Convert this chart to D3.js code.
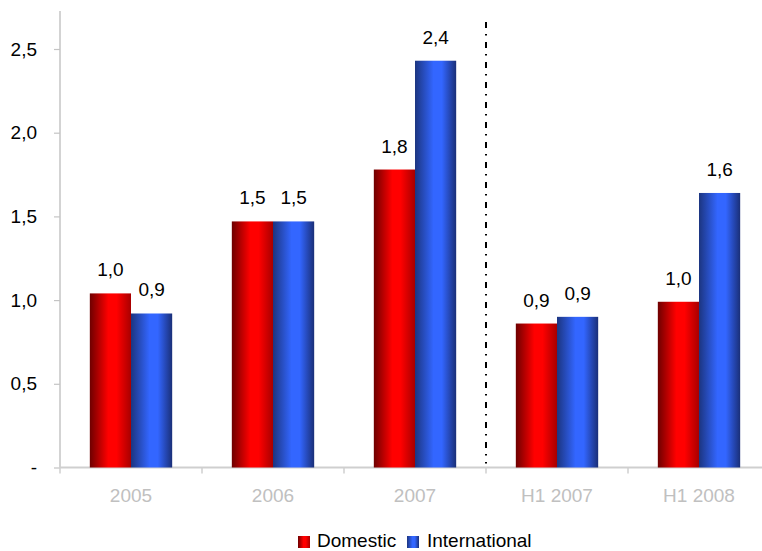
<!DOCTYPE html>
<html>
<head>
<meta charset="utf-8">
<script src="https://cdn.jsdelivr.net/npm/d3@7"></script>
<style>
  html, body { margin: 0; padding: 0; background: #fff; }
  svg { display: block; font-family: "Liberation Sans", Arial, sans-serif; }
</style>
</head>
<body>
<svg id="chart" width="762" height="551"></svg>
<script>
// Periods on the x axis
const categories = ["2005", "2006", "2007", "H1 2007", "H1 2008"];
// Series names
const seriesNames = ["Domestic", "International"];
// Values per period
const domestic = [1.04, 1.47, 1.78, 0.86, 0.99];
const international = [0.92, 1.47, 2.43, 0.90, 1.64];
// Y axis ticks
const yTicks = [0, 0.5, 1.0, 1.5, 2.0, 2.5];

const svg = d3.select("#chart");
const W = 762, H = 551;
const left = 60, step = 142;

const x0 = d3.scaleBand().domain(categories).range([left, left + step * categories.length]).padding(0);
const groupW = x0.bandwidth() * 0.58;
const x1 = d3.scaleBand().domain(seriesNames)
  .range([(x0.bandwidth() - groupW) / 2, (x0.bandwidth() + groupW) / 2]).padding(0);
const y = d3.scaleLinear().domain([0, 2.727]).range([467.5, 11]);

const fmt = v => v === 0 ? "-" : d3.format(".1f")(v).replace(".", ",");

// Cylinder-like horizontal gradients
const defs = svg.append("defs");
function grad(id, dark, bright, edge) {
  const g = defs.append("linearGradient").attr("id", id).attr("x1", "0").attr("x2", "1").attr("y1", "0").attr("y2", "0");
  g.append("stop").attr("offset", "0%").attr("stop-color", dark);
  g.append("stop").attr("offset", "45%").attr("stop-color", bright);
  g.append("stop").attr("offset", "65%").attr("stop-color", bright);
  g.append("stop").attr("offset", "100%").attr("stop-color", edge);
}
grad("gDom", "#6e0000", "#ff0000", "#a80000");
grad("gInt", "#1c3580", "#3366ff", "#1a2f78");
const fills = { Domestic: "url(#gDom)", International: "url(#gInt)" };

// Y axis
const yAxis = svg.append("g").attr("transform", `translate(${left},0)`)
  .call(d3.axisLeft(y).tickValues(yTicks).tickSize(6).tickPadding(17).tickFormat(fmt));
yAxis.select(".domain").attr("d", `M0,${y.range()[1]}V${y(0)}`).attr("stroke", "#c4c4c4").attr("stroke-width", 1.5);
yAxis.selectAll(".tick line").attr("stroke", "#c4c4c4").attr("stroke-width", 1.2);
yAxis.selectAll(".tick text").attr("fill", "#000").attr("font-size", 19)
  .attr("font-family", "Liberation Sans, Arial, sans-serif");

// X axis
const xAxis = svg.append("g").attr("transform", `translate(0,${y(0)})`)
  .call(d3.axisBottom(x0).tickSize(0).tickPadding(21));
xAxis.select(".domain").attr("d", `M${left},0H${W}`).attr("stroke", "#cfcfcf").attr("stroke-width", 2);
xAxis.selectAll(".tick text").attr("fill", "#c0c0c0").attr("font-size", 19)
  .attr("font-family", "Liberation Sans, Arial, sans-serif");
// Category boundary ticks
const bounds = categories.map(c => x0(c)).concat([x0(categories[categories.length - 1]) + step]);
xAxis.selectAll("line.bound").data(bounds).join("line").attr("class", "bound")
  .attr("x1", d => d).attr("x2", d => d).attr("y1", 0).attr("y2", 6)
  .attr("stroke", "#cfcfcf").attr("stroke-width", 1.5);

// Bars
const rows = categories.map((c, i) => ({ cat: c, vals: [
  { name: "Domestic", v: domestic[i] },
  { name: "International", v: international[i] }
]}));
const groups = svg.append("g").selectAll("g").data(rows).join("g")
  .attr("transform", d => `translate(${x0(d.cat)},0)`);
groups.selectAll("rect").data(d => d.vals).join("rect")
  .attr("x", d => x1(d.name)).attr("width", x1.bandwidth())
  .attr("y", d => y(d.v)).attr("height", d => y(0) - y(d.v))
  .attr("fill", d => fills[d.name]);
groups.selectAll("text").data(d => d.vals).join("text")
  .attr("x", d => x1(d.name) + x1.bandwidth() / 2)
  .attr("y", d => y(d.v) - 17)
  .attr("text-anchor", "middle").attr("font-size", 19).attr("fill", "#000")
  .text(d => fmt(d.v));

// Divider between full years and half years
const divX = x0("H1 2007");
svg.append("line").attr("x1", divX).attr("x2", divX).attr("y1", 22).attr("y2", y(0) - 4)
  .attr("stroke", "#000").attr("stroke-width", 2).attr("stroke-dasharray", "6,6,1.5,6.5");

// Legend
const legend = svg.append("g");
const legendItems = [
  { name: "Domestic", sx: 298, tx: 317 },
  { name: "International", sx: 407, tx: 427 }
];
legend.selectAll("rect").data(legendItems).join("rect")
  .attr("x", d => d.sx).attr("y", 536).attr("width", 12).attr("height", 12)
  .attr("fill", d => fills[d.name]);
legend.selectAll("text").data(legendItems).join("text")
  .attr("x", d => d.tx).attr("y", 547).attr("font-size", 19).attr("fill", "#000")
  .text(d => d.name);
</script>
</body>
</html>
